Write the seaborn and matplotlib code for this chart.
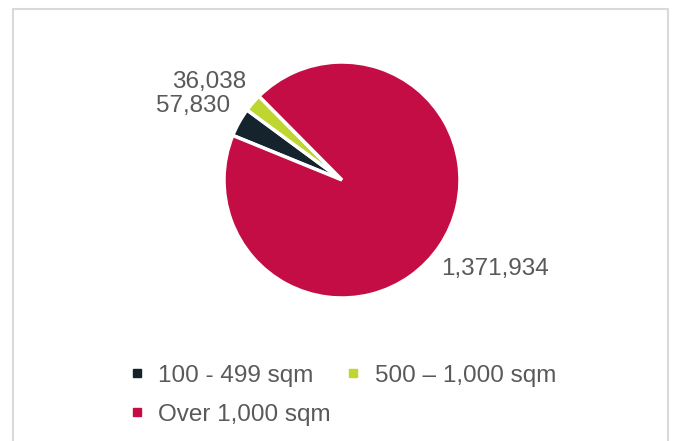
import matplotlib
matplotlib.use('Agg')
import matplotlib.pyplot as plt
import matplotlib.patches as mpatches
from matplotlib.lines import Line2D
import seaborn as sns

categories = ['100 - 499 sqm', '500 \u2013 1,000 sqm', 'Over 1,000 sqm']
values = [57830, 36038, 1371934]
colors = ['#15232D', '#BFD630', '#C40D45']

sns.set_style('white')
plt.rcParams['font.family'] = ['Liberation Sans', 'DejaVu Sans']
text_color = '#595959'

W, H = 673, 441
cx, cy, r = 342, 180, 118

fig = plt.figure(figsize=(W / 100, H / 100), dpi=100)
ax = fig.add_axes([0, 0, 1, 1])

wedges, _ = ax.pie(values, colors=colors, startangle=157.8, counterclock=False,
                   radius=1, wedgeprops=dict(edgecolor='white', linewidth=2.5))
ax.set_aspect('auto')
ax.set_xlim(-cx / r, (W - cx) / r)
ax.set_ylim(-(H - cy) / r, cy / r)
ax.axis('off')

# data labels
label_pos = [(-1.258, 0.625), (-1.13, 0.83), (1.30, -0.755)]
for v, (x, y) in zip(values, label_pos):
    ax.text(x, y, f'{v:,}', ha='center', va='center', fontsize=17.5, color=text_color)

# chart border
fig.patches.append(mpatches.Rectangle((12.5 / W, -0.05), (668 - 12.5) / W, 1.05 - 9 / H,
                                      transform=fig.transFigure, fill=False,
                                      edgecolor='#D9D9D9', linewidth=1.5))

# legend filled column-wise, so reorder to read row-wise like the original
handles = [Line2D([], [], marker='s', linestyle='', markersize=5.5, color=c) for c in colors]
order = [0, 2, 1]
leg = fig.legend([handles[i] for i in order], [categories[i] for i in order],
                 loc='upper left', bbox_to_anchor=(105 / W, 1 - 343 / H),
                 ncol=2, frameon=False, fontsize=17.5, labelcolor=text_color,
                 handletextpad=0.5, columnspacing=0.5, labelspacing=0.7, handlelength=0.8)

fig.savefig('out.png', dpi=100)
